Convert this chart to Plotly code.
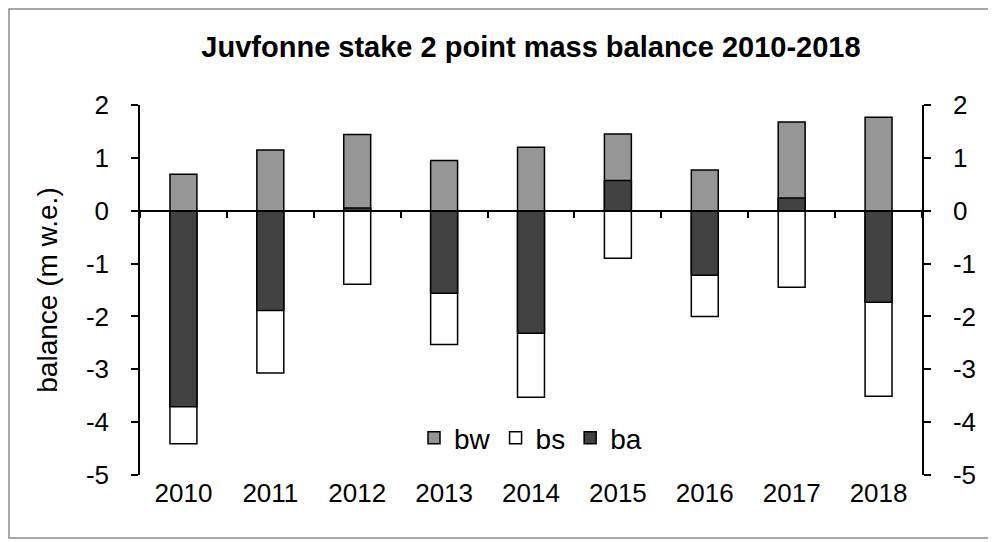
import plotly.graph_objects as go

# point balances at Juvfonne stake 2 (m w.e.)
years = ["2010", "2011", "2012", "2013", "2014", "2015", "2016", "2017", "2018"]
bw = [0.69, 1.15, 1.44, 0.95, 1.20, 1.45, 0.77, 1.68, 1.77]
bs = [-4.41, -3.07, -1.39, -2.53, -3.53, -0.90, -2.00, -1.45, -3.51]
ba = [-3.71, -1.89, 0.05, -1.56, -2.32, 0.57, -1.22, 0.24, -1.73]
y_ticks = [2, 1, 0, -1, -2, -3, -4, -5]
y_labels = [str(v) for v in y_ticks]  # plain hyphen minus like the original

font = "Liberation Sans, Arial, sans-serif"
outline = dict(color="black", width=1.5)

# page has an 8px body margin, so the figure is a bit smaller than the window
W, H = 988, 534
L, R, T, B = 132, 74, 97, 67
pw, ph = W - L - R, H - T - B

fig = go.Figure()
fig.add_trace(go.Bar(x=years, y=bw, name="bw", marker=dict(color="#969696", line=outline)))
fig.add_trace(go.Bar(x=years, y=bs, name="bs", marker=dict(color="white", line=outline)))
fig.add_trace(go.Bar(x=years, y=ba, name="ba", marker=dict(color="#424242", line=outline)))
# invisible trace so the label axis and right axis get drawn
fig.add_trace(go.Scatter(x=years, y=[0] * len(years), xaxis="x2", yaxis="y2",
                         mode="markers", marker=dict(opacity=0), showlegend=False,
                         hoverinfo="skip"))

yaxis_common = dict(range=[-5, 2], tickvals=y_ticks, ticktext=y_labels, showline=True,
                    linecolor="black", linewidth=1.5, ticks="outside", ticklen=7,
                    tickwidth=1.5, tickcolor="black", showgrid=False, zeroline=False,
                    ticklabelstandoff=17, tickfont=dict(size=26))

fig.update_layout(
    width=W, height=H,
    margin=dict(l=L, r=R, t=T, b=B),
    paper_bgcolor="white", plot_bgcolor="white",
    font=dict(family=font, size=26, color="black"),
    barmode="overlay", bargap=0.69,
    title=dict(text="<b>Juvfonne stake 2 point mass balance 2010-2018</b>",
               x=0.5, xref="paper", xanchor="center", y=1 - 39 / H, yanchor="middle",
               font=dict(size=29)),
    xaxis=dict(type="category", categoryarray=years, range=[-0.5, 8.5],
               anchor="free", position=5 / 7, showline=True, linecolor="black",
               linewidth=1.5, ticks="outside", tickson="boundaries", ticklen=7,
               tickwidth=1.5, tickcolor="black", showticklabels=False,
               showgrid=False, zeroline=False),
    xaxis2=dict(type="category", categoryarray=years, range=[-0.5, 8.5],
                overlaying="x", anchor="y", side="bottom", showline=False,
                ticks="", showgrid=False, zeroline=False, ticklabelstandoff=0,
                tickfont=dict(size=26)),
    yaxis=dict(yaxis_common, title=dict(text="balance (m w.e.)", standoff=20,
                                        font=dict(size=28))),
    yaxis2=dict(yaxis_common, overlaying="y", side="right", anchor="x"),
    legend=dict(orientation="h", x=(406 - L) / pw, xanchor="left", y=37 / ph,
                yanchor="middle", bgcolor="rgba(0,0,0,0)", font=dict(size=28),
                itemwidth=30, traceorder="normal"),
    shapes=[dict(type="rect", xref="paper", yref="paper",
                 x0=(-L + 1) / pw, x1=(W - 3 - L) / pw,
                 y0=-(B - 4) / ph, y1=1 + (T - 1) / ph,
                 line=dict(color="#8c8c8c", width=1.5), layer="below")],
)

fig.write_html("out.html")
